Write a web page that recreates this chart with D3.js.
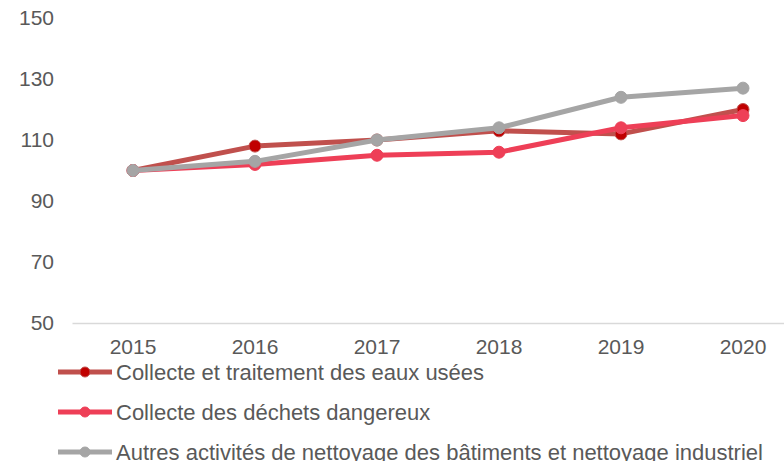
<!DOCTYPE html>
<html>
<head>
<meta charset="utf-8">
<script src="https://cdn.jsdelivr.net/npm/d3@7"></script>
<style>
  body { margin: 0; background: #fff; }
  svg { display: block; }
</style>
</head>
<body>
<div id="chart"></div>
<script>
const years = ["2015", "2016", "2017", "2018", "2019", "2020"];
const eauxUsees = [100, 108, 110, 113, 112, 120];
const dechetsDangereux = [100, 102, 105, 106, 114, 118];
const nettoyage = [100, 103, 110, 114, 124, 127];
const yTicks = [50, 70, 90, 110, 130, 150];
const seriesNames = [
  "Collecte et traitement des eaux usées",
  "Collecte des déchets dangereux",
  "Autres activités de nettoyage des bâtiments et nettoyage industriel"
];

const WIDTH = 784;
const HEIGHT = 461;
const FONT = "'Liberation Sans', Arial, sans-serif";

const series = [
  {name: seriesNames[0], values: eauxUsees, line: "#C0504D", dot: "#C00000"},
  {name: seriesNames[1], values: dechetsDangereux, line: "#EE3F57", dot: "#EE3F57"},
  {name: seriesNames[2], values: nettoyage, line: "#A5A5A5", dot: "#A5A5A5"}
];

const svg = d3.select("#chart").append("svg")
  .attr("width", WIDTH)
  .attr("height", HEIGHT)
  .style("font-family", FONT);

const x = d3.scaleBand()
  .domain(years)
  .range([72, 804]);

const y = d3.scaleLinear()
  .domain([50, 150])
  .range([323, 18]);

// y axis labels (no line)
const yAxis = svg.append("g")
  .attr("transform", "translate(54,0)")
  .call(d3.axisLeft(y).tickValues(yTicks).tickSize(0).tickPadding(0));
yAxis.select(".domain").remove();
yAxis.selectAll("text")
  .attr("font-size", "21px")
  .attr("font-family", FONT)
  .attr("fill", "#595959");

// x axis
const xAxis = svg.append("g")
  .attr("transform", `translate(0,${y(50)})`)
  .call(d3.axisBottom(x).tickSize(0).tickPadding(16));
xAxis.select(".domain")
  .attr("stroke", "#D9D9D9")
  .attr("stroke-width", 1.5);
xAxis.selectAll("text")
  .attr("font-size", "21px")
  .attr("font-family", FONT)
  .attr("fill", "#595959");

const cx = (i) => x(years[i]) + x.bandwidth() / 2;

const line = d3.line()
  .x((d, i) => cx(i))
  .y((d) => y(d));

series.forEach((s) => {
  svg.append("path")
    .datum(s.values)
    .attr("d", line)
    .attr("fill", "none")
    .attr("stroke", s.line)
    .attr("stroke-width", 5)
    .attr("stroke-linejoin", "round");

  svg.append("g").selectAll("circle")
    .data(s.values)
    .enter().append("circle")
    .attr("cx", (d, i) => cx(i))
    .attr("cy", (d) => y(d))
    .attr("r", 6)
    .attr("fill", s.dot)
    .attr("stroke", s.line)
    .attr("stroke-width", 1);
});

// legend
const legend = svg.append("g")
  .selectAll("g")
  .data(series)
  .enter().append("g")
  .attr("transform", (d, i) => `translate(0,${372 + i * 40})`);

legend.append("line")
  .attr("x1", 58).attr("x2", 112)
  .attr("y1", 0).attr("y2", 0)
  .attr("stroke", (d) => d.line)
  .attr("stroke-width", 5);

legend.append("circle")
  .attr("cx", 85).attr("cy", 0)
  .attr("r", 5)
  .attr("fill", (d) => d.dot)
  .attr("stroke", (d) => d.line)
  .attr("stroke-width", 1);

legend.append("text")
  .attr("x", 116)
  .attr("y", 0)
  .attr("dy", "0.35em")
  .attr("font-size", "22px")
  .attr("fill", "#595959")
  .text((d) => d.name);
</script>
</body>
</html>
